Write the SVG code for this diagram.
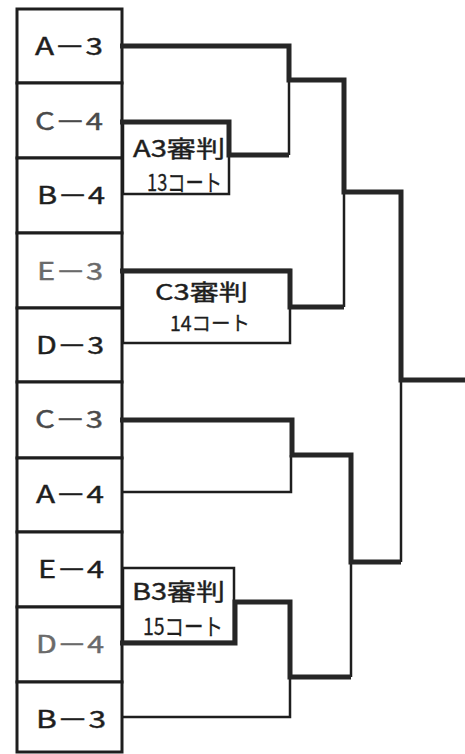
<svg xmlns="http://www.w3.org/2000/svg" width="465" height="754" viewBox="0 0 465 754">
<style>
.cell{fill:#fff;stroke:#1e1e1e;stroke-width:3}
.box{fill:#fff;stroke:#1e1e1e;stroke-width:2.5}
.thick{fill:none;stroke:#262626;stroke-width:5;stroke-linejoin:miter}
.thin{fill:none;stroke:#1e1e1e;stroke-width:2.5}
.lbl{font-family:"Noto Sans CJK JP","Noto Sans",sans-serif;font-size:24px;fill:#1e1e1e;stroke:#1e1e1e;stroke-width:0.4}
.t1{font-family:"Noto Sans CJK JP","Noto Sans",sans-serif;font-size:23px;fill:#1e1e1e;stroke:#1e1e1e;stroke-width:0.4}
.t2{font-family:"Noto Sans CJK JP","Noto Sans",sans-serif;font-size:23px;fill:#1e1e1e;stroke:#1e1e1e;stroke-width:0.3}
.faint{fill:#6a6a6a;stroke:#6a6a6a}
.mid{fill:#4a4a4a;stroke:#4a4a4a}
</style>
<rect width="465" height="754" fill="#fff"/>
<g id="team-A3"><rect class="cell" x="17" y="9" width="105" height="74"/><text class="lbl" x="35" y="55" textLength="68" lengthAdjust="spacingAndGlyphs">A－3</text></g>
<g id="team-C4"><rect class="cell" x="17" y="83" width="105" height="75"/><text class="lbl mid" x="35" y="130" textLength="68" lengthAdjust="spacingAndGlyphs">C－4</text></g>
<g id="team-B4"><rect class="cell" x="17" y="158" width="105" height="75"/><text class="lbl" x="37" y="204" textLength="68" lengthAdjust="spacingAndGlyphs">B－4</text></g>
<g id="team-E3"><rect class="cell" x="17" y="233" width="105" height="75"/><text class="lbl faint" x="37" y="280" textLength="66" lengthAdjust="spacingAndGlyphs">E－3</text></g>
<g id="team-D3"><rect class="cell" x="17" y="308" width="105" height="74"/><text class="lbl" x="36" y="354" textLength="68" lengthAdjust="spacingAndGlyphs">D－3</text></g>
<g id="team-C3"><rect class="cell" x="17" y="382" width="105" height="76"/><text class="lbl mid" x="35" y="428" textLength="68" lengthAdjust="spacingAndGlyphs">C－3</text></g>
<g id="team-A4"><rect class="cell" x="17" y="458" width="105" height="74"/><text class="lbl" x="36" y="503" textLength="68" lengthAdjust="spacingAndGlyphs">A－4</text></g>
<g id="team-E4"><rect class="cell" x="17" y="532" width="105" height="75"/><text class="lbl" x="38" y="578" textLength="66" lengthAdjust="spacingAndGlyphs">E－4</text></g>
<g id="team-D4"><rect class="cell" x="17" y="607" width="105" height="75"/><text class="lbl faint" x="36" y="653" textLength="68" lengthAdjust="spacingAndGlyphs">D－4</text></g>
<g id="team-B3"><rect class="cell" x="17" y="682" width="105" height="70"/><text class="lbl" x="36" y="728" textLength="70" lengthAdjust="spacingAndGlyphs">B－3</text></g>

<g id="ref-A3"><rect class="box" x="123" y="122" width="106" height="72"/>
<text class="t1" x="133" y="157" textLength="92" lengthAdjust="spacingAndGlyphs">A3審判</text>
<text class="t2" x="147" y="191" textLength="75" lengthAdjust="spacingAndGlyphs">13コート</text></g>
<g id="ref-C3"><rect class="box" x="123" y="270" width="167" height="73"/>
<text class="t1" x="155" y="300" textLength="93" lengthAdjust="spacingAndGlyphs" style="font-size:22px">C3審判</text>
<text class="t2" x="170" y="331" textLength="80" lengthAdjust="spacingAndGlyphs" style="font-size:20px">14コート</text></g>
<g id="ref-B3"><rect class="box" x="123" y="568" width="111" height="74"/>
<text class="t1" x="132" y="600" textLength="93" lengthAdjust="spacingAndGlyphs">B3審判</text>
<text class="t2" x="143" y="635" textLength="80" lengthAdjust="spacingAndGlyphs">15コート</text></g>

<g id="connectors">
<path class="thin" d="M289,80 V155"/>
<path class="thin" d="M344,192 V307"/>
<path class="thin" d="M291,455 V492 H122"/>
<path class="thin" d="M401,380 V562"/>
<path class="thin" d="M351,562 V677"/>
<path class="thin" d="M290,677 V717 H122"/>
<path class="thick" d="M120,46 H289 V80 H344 V192 H401 V380 H465"/>
<path class="thick" d="M120,122 H229 V155 H289"/>
<path class="thick" d="M120,271 H290 V307 H344"/>
<path class="thick" d="M120,420 H292 V455 H351 V562 H401"/>
<path class="thick" d="M120,643 H235 V602 H290 V677 H351"/>
</g>
</svg>
